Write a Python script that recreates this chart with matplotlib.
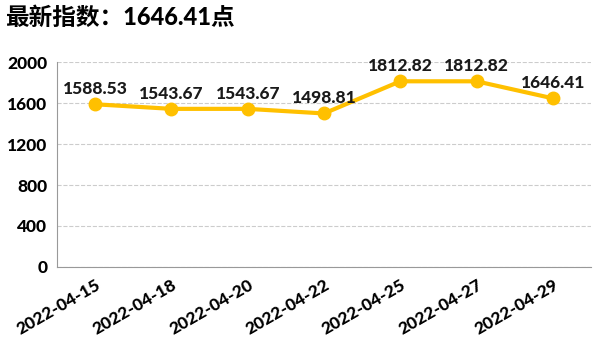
import matplotlib
matplotlib.use('Agg')
import matplotlib.pyplot as plt

plt.rcParams['font.family'] = ['Lato', 'Noto Sans CJK SC', 'DejaVu Sans']

dates = ['2022-04-15', '2022-04-18', '2022-04-20', '2022-04-22',
         '2022-04-25', '2022-04-27', '2022-04-29']
values = [1588.53, 1543.67, 1543.67, 1498.81, 1812.82, 1812.82, 1646.41]
yticks = [0, 400, 800, 1200, 1600, 2000]

fig = plt.figure(figsize=(6, 3.55), dpi=100)
ax = fig.add_axes([0.095, 0.248, 0.89, 0.577])

x = range(len(dates))
ax.plot(x, values, color='#FFC000', lw=3, marker='o', ms=9, zorder=3)
for i, v in zip(x, values):
    ax.text(i, v + 70, f'{v:.2f}', ha='center', va='bottom',
            fontsize=12.5, fontweight='black', color='#1a1a1a')

ax.set_xlim(-0.5, len(dates) - 0.5)
ax.set_ylim(0, 2000)
ax.set_yticks(yticks)
ax.set_yticklabels([str(t) for t in yticks], fontsize=12.5, fontweight='black')
ax.set_xticks(list(x))
ax.set_xticklabels(dates, rotation=30, ha='right', rotation_mode='anchor',
                   fontsize=12.5, fontweight='black')
ax.tick_params(length=0, pad=7)
ax.grid(axis='y', color='#cccccc', ls='--', lw=0.8)
ax.set_axisbelow(True)
for s in ['top', 'right']:
    ax.spines[s].set_visible(False)
ax.spines['left'].set_color('#999999')
ax.spines['bottom'].set_color('#999999')

fig.text(0.008, 0.95, '最新指数：1646.41点', fontsize=17, fontweight='black',
         ha='left', va='center')

fig.savefig('out.png', dpi=100)
